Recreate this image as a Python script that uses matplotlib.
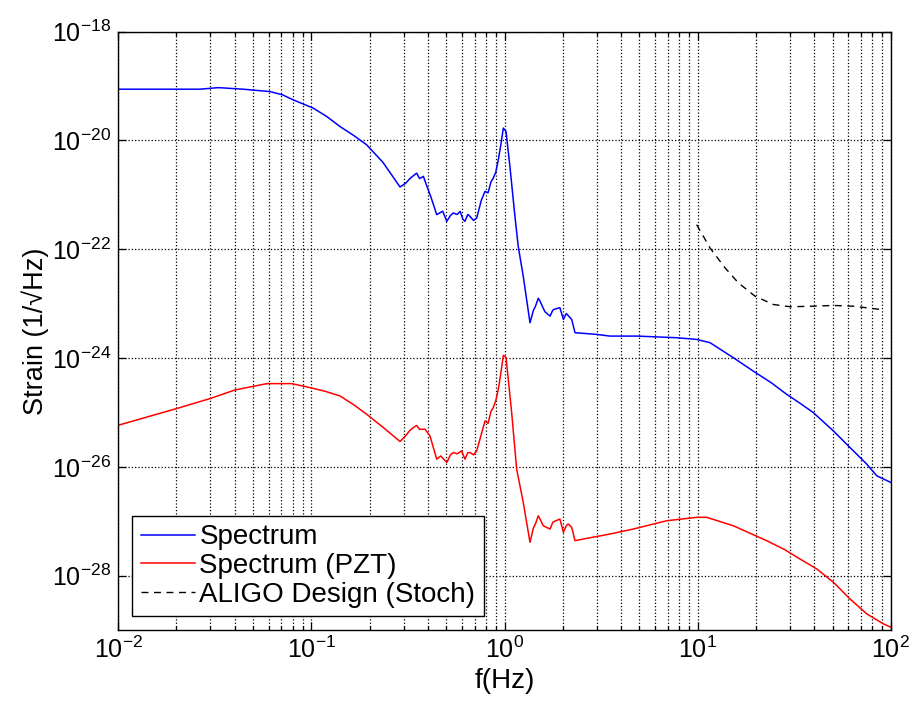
import numpy as np
import matplotlib
matplotlib.use("Agg")
from matplotlib import pyplot as plt
from matplotlib.ticker import FixedLocator, LogLocator, NullLocator, FuncFormatter

plt.rcParams['font.family'] = ['Liberation Sans', 'DejaVu Sans']
plt.rcParams['mathtext.fontset'] = 'custom'
plt.rcParams['mathtext.rm'] = 'Liberation Sans'
plt.rcParams['mathtext.it'] = 'Liberation Sans:italic'

# values, as log10(f) and log10(strain)
spec_logf = [-2.0, -1.577, -1.482, -1.353, -1.214, -1.150, -1.094, -0.990, -0.920, -0.852,
             -0.780, -0.714, -0.630, -0.541, -0.51, -0.49, -0.472, -0.455, -0.44, -0.42,
             -0.403, -0.38, -0.351, -0.33, -0.32, -0.299, -0.28, -0.265, -0.245, -0.230,
             -0.215, -0.205, -0.19, -0.179, -0.16, -0.144, -0.12, -0.101, -0.085, -0.07,
             -0.058, -0.045, -0.032, -0.02, -0.006, 0.008, 0.028, 0.054, 0.071, 0.097,
             0.132, 0.15, 0.16, 0.175, 0.184, 0.20, 0.21, 0.236, 0.25, 0.26, 0.287,
             0.305, 0.32, 0.33, 0.348, 0.365, 0.478, 0.546, 0.685, 0.892, 0.995, 1.064,
             1.185, 1.288, 1.38, 1.461, 1.530, 1.599, 1.703, 1.789, 1.876, 1.928, 2.0]
spec_logs = [-19.057, -19.057, -19.028, -19.057, -19.101, -19.16, -19.253, -19.406, -19.56, -19.743,
             -19.91, -20.079, -20.40, -20.855, -20.78, -20.70, -20.648, -20.60, -20.70, -20.66,
             -20.831, -21.05, -21.363, -21.32, -21.30, -21.486, -21.38, -21.332, -21.36, -21.303,
             -21.45, -21.486, -21.36, -21.394, -21.47, -21.424, -21.10, -20.936, -20.96, -20.76,
             -20.690, -20.58, -20.354, -20.10, -19.772, -19.835, -20.477, -21.394, -21.945, -22.495,
             -23.350, -23.12, -23.05, -22.90, -22.954, -23.08, -23.15, -23.229, -23.12, -23.10, -23.075,
             -23.290, -23.18, -23.22, -23.290, -23.534, -23.565, -23.596, -23.596, -23.626, -23.657, -23.717,
             -23.993, -24.239, -24.45, -24.666, -24.83, -25.002, -25.339, -25.644, -25.950, -26.165, -26.286]

pzt_logf = [-2.0, -1.698, -1.525, -1.396, -1.231, -1.102, -1.007, -0.930, -0.852, -0.780,
            -0.714, -0.630, -0.541, -0.51, -0.49, -0.472, -0.455, -0.44, -0.412, -0.386,
            -0.351, -0.33, -0.32, -0.299, -0.28, -0.265, -0.245, -0.222, -0.205, -0.19,
            -0.179, -0.16, -0.144, -0.12, -0.101, -0.085, -0.07, -0.058, -0.045, -0.032,
            -0.02, -0.006, 0.008, 0.037, 0.063, 0.097, 0.132, 0.15, 0.16, 0.175, 0.184,
            0.20, 0.21, 0.236, 0.25, 0.26, 0.287, 0.305, 0.32, 0.33, 0.348, 0.365, 0.408,
            0.546, 0.667, 0.840, 0.995, 1.047, 1.185, 1.358, 1.450, 1.530, 1.617, 1.703,
            1.789, 1.876, 1.962, 2.0]
pzt_logs = [-25.235, -24.928, -24.745, -24.587, -24.470, -24.470, -24.543, -24.61, -24.697, -24.86,
            -25.033, -25.27, -25.534, -25.42, -25.33, -25.277, -25.24, -25.31, -25.308, -25.431,
            -25.859, -25.80, -25.84, -25.919, -25.78, -25.736, -25.76, -25.706, -25.859, -25.74,
            -25.736, -25.78, -25.706, -25.40, -25.156, -25.20, -24.98, -24.910, -24.78, -24.574,
            -24.30, -23.950, -23.987, -25.002, -26.042, -26.653, -27.387, -27.12, -27.05, -26.90,
            -26.960, -27.08, -27.10, -27.143, -27.02, -27.00, -26.960, -27.204, -27.08, -27.05, -27.112,
            -27.358, -27.327, -27.235, -27.143, -26.991, -26.928, -26.928, -27.083, -27.358, -27.52,
            -27.694, -27.877, -28.121, -28.428, -28.703, -28.887, -28.947]

aligo_logf = [0.995, 1.064, 1.142, 1.211, 1.297, 1.392, 1.479, 1.599, 1.703, 1.806, 1.945]
aligo_logs = [-21.547, -21.974, -22.341, -22.617, -22.862, -23.015, -23.057, -23.046,
              -23.033, -23.046, -23.106]

ytick_exps = [-28, -26, -24, -22, -20, -18]

fig = plt.figure(figsize=(9.1, 7.03), dpi=100)
ax = fig.add_axes([0.130, 0.1038, 0.8488, 0.8511])

ax.plot(10.0 ** np.array(spec_logf), 10.0 ** np.array(spec_logs), color='#0000ff', lw=1.1,
        label='Spectrum')
ax.plot(10.0 ** np.array(pzt_logf), 10.0 ** np.array(pzt_logs), color='#ff0000', lw=1.1,
        label='Spectrum (PZT)')
ax.plot(10.0 ** np.array(aligo_logf), 10.0 ** np.array(aligo_logs), color='black', lw=1.0,
        dashes=(5, 4), label='ALIGO Design (Stoch)')

ax.set_xscale('log')
ax.set_yscale('log')
ax.set_xlim(1e-2, 1e2)
ax.set_ylim(1e-29, 1e-18)

ax.xaxis.set_major_locator(LogLocator(base=10, numticks=10))
ax.xaxis.set_minor_locator(LogLocator(base=10, subs=np.arange(2, 10), numticks=20))
ax.yaxis.set_major_locator(FixedLocator([10.0 ** e for e in ytick_exps]))
ax.yaxis.set_minor_locator(NullLocator())

fmt = FuncFormatter(lambda v, p: r'$\mathregular{10^{%d}}$' % int(round(np.log10(v))))
ax.xaxis.set_major_formatter(fmt)
ax.yaxis.set_major_formatter(fmt)

ax.grid(True, which='major', axis='both', linestyle=':', color='black', lw=0.9)
ax.grid(True, which='minor', axis='x', linestyle=':', color='black', lw=0.9)

ax.tick_params(which='both', direction='in', top=True, right=True, labelsize=18, pad=5)
ax.tick_params(which='major', length=6, width=0.9)
ax.tick_params(which='minor', length=3, width=0.9)
for s in ax.spines.values():
    s.set_linewidth(1.0)

ax.set_xlabel('f(Hz)', fontsize=20, labelpad=3)
ax.set_ylabel('Strain (1/\u221aHz)', fontsize=19.5, labelpad=2)

leg = ax.legend(loc='lower left', fontsize=20, frameon=True, fancybox=False, framealpha=1,
                edgecolor='black', borderaxespad=0.5, handlelength=1.95, handletextpad=0.17,
                labelspacing=0.1, borderpad=0.3)
leg.get_frame().set_linewidth(1.0)

fig.savefig('out.png', dpi=100)
